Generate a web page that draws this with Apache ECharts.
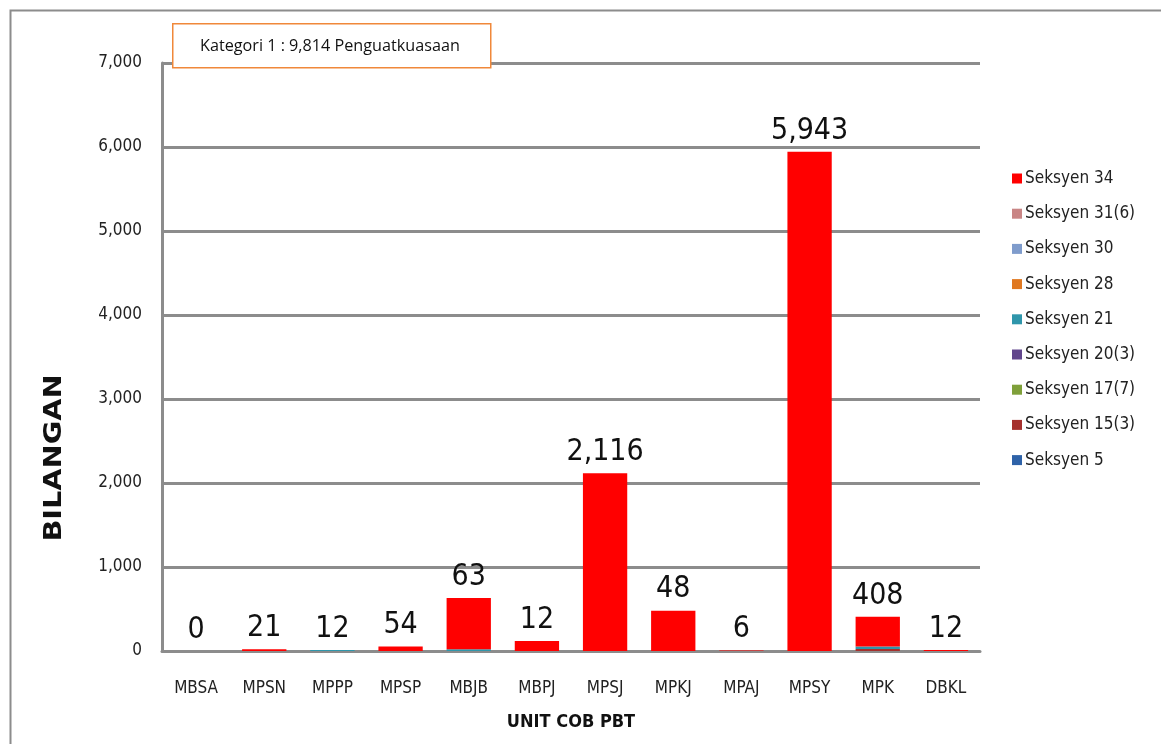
<!DOCTYPE html>
<html>
<head>
<meta charset="utf-8">
<script src="https://cdn.jsdelivr.net/npm/echarts@6/dist/echarts.min.js"></script>
<style>
    html, body { margin: 0; padding: 0; background: #fff; }
    #chart { width: 1161px; height: 744px; }
</style>
</head>
<body>
<div id="chart"></div>
<script>
const categories = ['MBSA', 'MPSN', 'MPPP', 'MPSP', 'MBJB', 'MBPJ', 'MPSJ', 'MPKJ', 'MPAJ', 'MPSY', 'MPK', 'DBKL'];

// stack order from bottom to top
const seriesNames = ['Seksyen 5', 'Seksyen 15(3)', 'Seksyen 17(7)', 'Seksyen 20(3)', 'Seksyen 21',
    'Seksyen 28', 'Seksyen 30', 'Seksyen 31(6)', 'Seksyen 34'];
const seriesColors = ['#2e62a8', '#a5302d', '#7fa03a', '#61458c', '#2f96ab',
    '#e07820', '#7f9ccc', '#c98585', '#ff0000'];

const s5 = [0, 0, 0, 0, 0, 0, 0, 0, 0, 0, 0, 0];
const s15_3 = [0, 0, 0, 0, 0, 0, 0, 0, 0, 0, 23, 0];
const s17_7 = [0, 0, 0, 0, 0, 0, 0, 0, 0, 0, 0, 0];
const s20_3 = [0, 0, 0, 0, 0, 0, 0, 0, 0, 0, 0, 0];
const s21 = [0, 0, 12, 0, 20, 0, 0, 0, 0, 0, 30, 0];
const s28 = [0, 0, 0, 0, 0, 0, 0, 0, 0, 0, 0, 0];
const s30 = [0, 0, 0, 0, 0, 0, 0, 0, 0, 0, 0, 0];
const s31_6 = [0, 0, 0, 0, 0, 0, 0, 0, 0, 0, 0, 0];
const s34 = [0, 21, 0, 54, 610, 120, 2116, 480, 6, 5943, 355, 12];

// labels printed above each bar
const totalLabels = ['0', '21', '12', '54', '63', '12', '2,116', '48', '6', '5,943', '408', '12'];

const yTicks = { min: 0, max: 7000, interval: 1000 };

const seriesData = [s5, s15_3, s17_7, s20_3, s21, s28, s30, s31_6, s34];
const fontNarrow = '"DejaVu Sans Condensed", "Liberation Sans Narrow", "Liberation Sans", sans-serif';

const chart = echarts.init(document.getElementById('chart'));

const series = seriesNames.map((name, i) => ({
    name: name,
    type: 'bar',
    stack: 'total',
    barWidth: '65%',
    data: seriesData[i],
    itemStyle: { color: seriesColors[i] },
    label: i === seriesNames.length - 1 ? {
        show: true,
        position: 'top',
        distance: 6,
        fontFamily: fontNarrow,
        fontSize: 30,
        color: '#111',
        formatter: p => totalLabels[p.dataIndex]
    } : { show: false }
}));

chart.setOption({
    animation: false,
    backgroundColor: '#fff',
    grid: { left: 162, right: 181, top: 63, bottom: 93 },
    legend: {
        orient: 'vertical',
        left: 1007,
        top: 165,
        data: seriesNames.slice().reverse(),
        icon: 'rect',
        itemWidth: 10,
        itemHeight: 10,
        itemGap: 18.2,
        textStyle: { fontFamily: fontNarrow, fontSize: 17, color: '#222', padding: [0, 0, 0, -2] }
    },
    xAxis: {
        type: 'category',
        data: categories,
        name: 'UNIT COB PBT',
        nameLocation: 'middle',
        nameGap: 62,
        nameTextStyle: { fontFamily: fontNarrow, fontWeight: 'bold', fontSize: 18, color: '#111' },
        axisLine: { lineStyle: { color: '#8c8c8c', width: 3 } },
        axisTick: { show: false },
        axisLabel: { fontFamily: fontNarrow, fontSize: 17, color: '#222', margin: 29 }
    },
    yAxis: {
        type: 'value',
        min: yTicks.min,
        max: yTicks.max,
        interval: yTicks.interval,
        axisLine: { show: true, lineStyle: { color: '#8c8c8c', width: 3 } },
        axisTick: { show: false },
        axisLabel: {
            fontFamily: fontNarrow, fontSize: 17, color: '#222', margin: 20,
            formatter: v => v.toLocaleString('en-US')
        },
        splitLine: { lineStyle: { color: '#8c8c8c', width: 3 } }
    },
    graphic: [
        {
            type: 'rect',
            left: 8, top: 8,
            shape: { width: 1165, height: 745 },
            style: { fill: 'none', stroke: '#8c8c8c', lineWidth: 2 },
            z: -1
        },
        {
            type: 'rect',
            left: 172, top: 23,
            shape: { width: 318, height: 44 },
            style: { fill: '#fff', stroke: '#f0883a', lineWidth: 1.5 },
            z: 10
        },
        {
            type: 'text',
            x: 200, y: 46,
            style: {
                text: 'Kategori 1 : 9,814 Penguatkuasaan', fontFamily: '"Open Sans", sans-serif',
                fontSize: 16.2, fill: '#111', verticalAlign: 'middle'
            },
            z: 11
        },
        {
            type: 'text',
            x: 54, y: 458,
            rotation: Math.PI / 2,
            scaleX: 1.15,
            style: {
                text: 'BILANGAN', fontFamily: '"DejaVu Sans", sans-serif', fontWeight: 'bold',
                fontSize: 25, fill: '#111', align: 'center', verticalAlign: 'middle'
            },
            z: 11
        }
    ],
    series: series
});
</script>
</body>
</html>
